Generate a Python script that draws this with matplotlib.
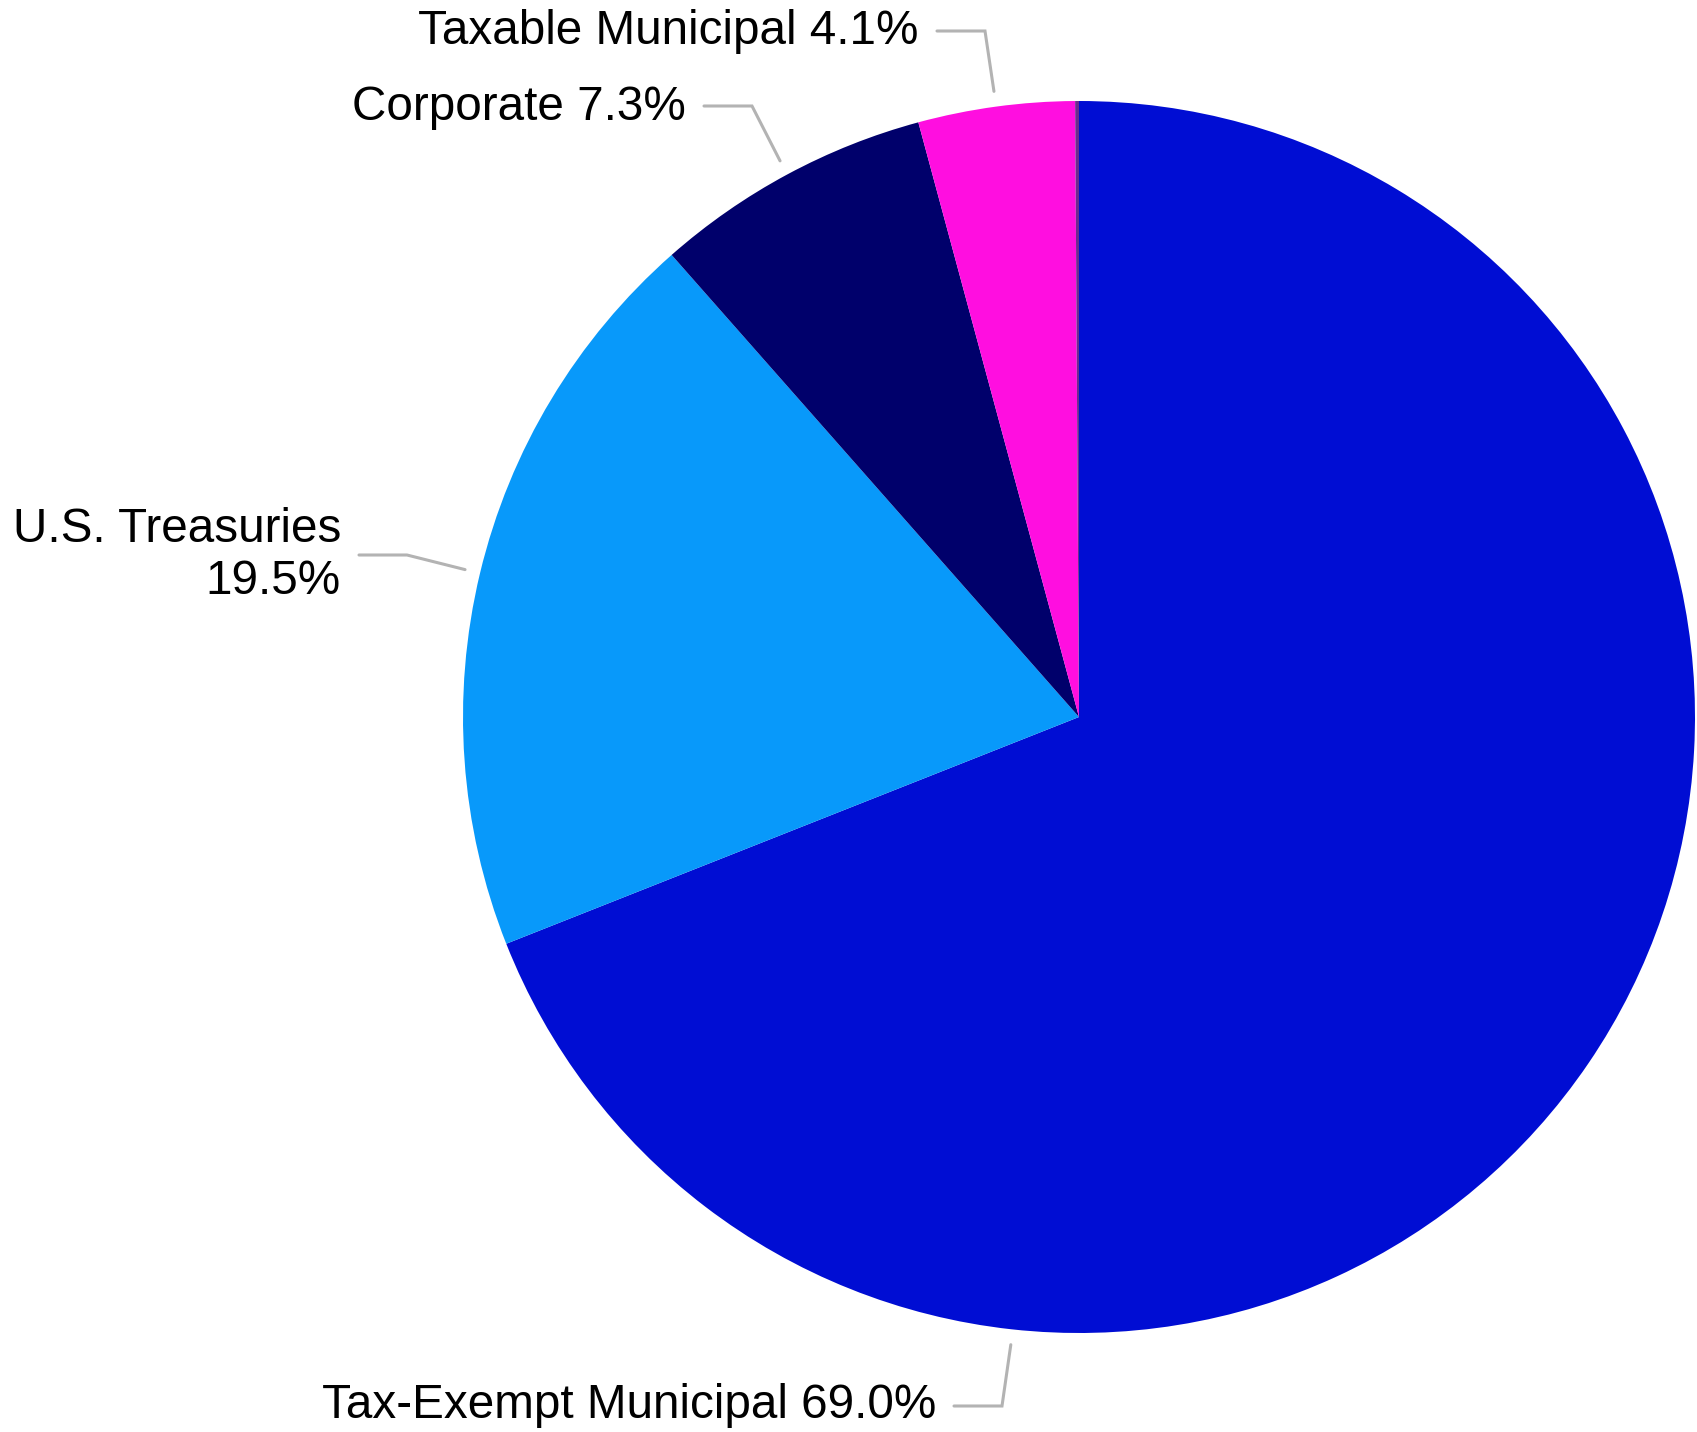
import numpy as np
import matplotlib.pyplot as plt

plt.rcParams['font.family'] = ['Liberation Sans', 'DejaVu Sans']

# sector allocation, clockwise from 12 o'clock
sectors = ["Tax-Exempt Municipal", "U.S. Treasuries", "Corporate", "Taxable Municipal", "Other"]
weights = [69.0, 19.5, 7.3, 4.1, 0.1]
colors = ["#000dd3", "#0899fa", "#00006b", "#ff0ee0", "#6a2c8e"]
label_text = ["Tax-Exempt Municipal 69.0%", "U.S. Treasuries\n19.5%",
              "Corporate 7.3%", "Taxable Municipal 4.1%", None]

W, H = 1697, 1432
fig = plt.figure(figsize=(W / 100, H / 100), dpi=100)
ax = fig.add_axes([0, 0, 1, 1])

cx, cy, R = 1079, H - 717, 616
wedges, _ = ax.pie(weights, colors=colors, startangle=90, counterclock=False,
                   center=(cx, cy), radius=R, frame=True,
                   wedgeprops=dict(linewidth=0))
ax.set_xlim(0, W)
ax.set_ylim(0, H)
ax.set_axis_off()

# label anchor (right edge of text, in px from top-left) and optional leader angle
label_pos = [(936, 1406), (341, 556), (686, 107), (919, 32), None]
line_y = [1406, 555, 106, 31, None]
leader_angle = [263.8, None, None, None, None]

for w, txt, pos, yl, ang in zip(wedges, label_text, label_pos, line_y, leader_angle):
    if txt is None:
        continue
    if ang is None:
        ang = (w.theta1 + w.theta2) / 2
    a = np.deg2rad(ang)
    tip = (cx + 1.025 * R * np.cos(a), cy + 1.025 * R * np.sin(a))
    ly = H - yl
    x0 = pos[0] + 18
    elbow = (x0 + 48, ly)
    ax.plot([x0, elbow[0], tip[0]], [ly, ly, tip[1]], color="#b3b3b3",
            lw=2.2, solid_capstyle="round", solid_joinstyle="miter")
    ax.text(pos[0], H - pos[1], txt, ha="right", va="center", fontsize=34.3,
            multialignment="right", linespacing=1.2, color="black")

fig.savefig("out.png", dpi=100)
